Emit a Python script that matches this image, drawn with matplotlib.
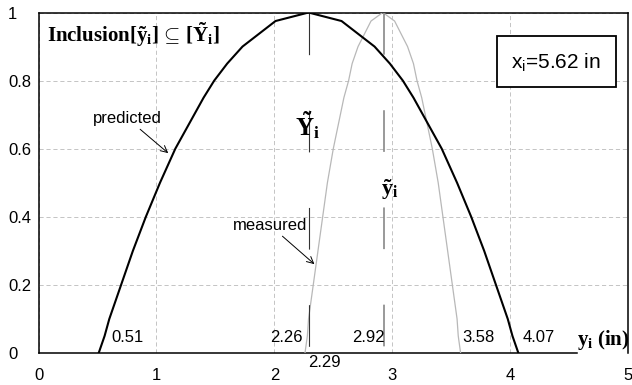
import matplotlib.pyplot as plt

plt.rcParams['font.family'] = 'Liberation Sans'
plt.rcParams['mathtext.fontset'] = 'custom'
plt.rcParams['mathtext.rm'] = 'Liberation Serif'
plt.rcParams['mathtext.it'] = 'Liberation Serif:italic'
plt.rcParams['mathtext.bf'] = 'Liberation Serif:bold'
plt.rcParams['mathtext.sf'] = 'Liberation Sans'
plt.rcParams['lines.scale_dashes'] = False

# membership levels and left/right ends of the two fuzzy intervals
levels = [0, 0.05, 0.1, 0.15, 0.2, 0.3, 0.4, 0.5, 0.6, 0.7, 0.75, 0.8, 0.85, 0.9, 0.975, 1]
pred_left = [0.51, 0.56, 0.60, 0.65, 0.70, 0.80, 0.91, 1.03, 1.16, 1.32, 1.40, 1.49,
             1.60, 1.73, 2.01, 2.29]
pred_right = [4.07, 4.02, 3.98, 3.93, 3.88, 3.78, 3.67, 3.55, 3.42, 3.26, 3.18, 3.09,
              2.98, 2.85, 2.57, 2.29]
meas_left = [2.26, 2.28, 2.29, 2.31, 2.33, 2.37, 2.41, 2.45, 2.50, 2.56, 2.59, 2.63,
             2.66, 2.71, 2.82, 2.92]
meas_right = [3.58, 3.56, 3.55, 3.53, 3.51, 3.47, 3.43, 3.39, 3.34, 3.28, 3.25, 3.21,
              3.18, 3.13, 3.02, 2.92]
x_i = 5.62

xticks = [0, 1, 2, 3, 4, 5]
yticks = [0, 0.2, 0.4, 0.6, 0.8, 1]
ytick_labels = ['0', '0.2', '0.4', '0.6', '0.8', '1']

fig = plt.figure(figsize=(6.32, 3.85), dpi=100)
ax = fig.add_axes([0.061, 0.083, 0.9327, 0.8845])

pred_x = pred_left + pred_right[::-1][1:]
pred_y = levels + levels[::-1][1:]
meas_x = meas_left + meas_right[::-1][1:]
meas_y = levels + levels[::-1][1:]

ax.plot(meas_x, meas_y, color='#b8b8b8', lw=0.9, zorder=3)
ax.plot(pred_x, pred_y, color='black', lw=1.5, zorder=4)

# dashed verticals at the peaks
pred_peak = pred_left[-1]
meas_peak = meas_left[-1]
ax.plot([pred_peak, pred_peak], [1, 0], color='#333333', lw=0.8,
        linestyle=(0, (30, 40)), zorder=3)
ax.plot([meas_peak + 0.01, meas_peak + 0.01], [1, 0], color='#888888', lw=1.2,
        linestyle=(0, (30, 40)), zorder=3)

ax.set_xlim(0, 5)
ax.set_ylim(0, 1)
ax.set_xticks(xticks)
ax.set_yticks(yticks)
ax.set_yticklabels(ytick_labels)
ax.tick_params(length=0, labelsize=12)
ax.tick_params(axis='x', pad=11)
ax.tick_params(axis='y', pad=22)
for lab in ax.get_yticklabels():
    lab.set_horizontalalignment('left')

ax.grid(True, color='#c4c4c4', linestyle=(0, (3, 2)), lw=0.7)
for s in ax.spines.values():
    s.set_linewidth(1.1)
ax.spines['bottom'].set_bounds(0, 4.57)

# end / peak value labels
kw = dict(textcoords='offset points', fontsize=12, va='center')
ax.annotate(f"{pred_left[0]:.2f}", (pred_left[0], 0), xytext=(9.5, 11.5), ha='left', **kw)
ax.annotate(f"{meas_left[0]:.2f}", (meas_left[0], 0), xytext=(-1.5, 11.5), ha='right', **kw)
ax.annotate(f"{pred_peak:.2f}", (pred_peak, 0), xytext=(0, -6.5), ha='left',
            annotation_clip=False, **kw)
ax.annotate(f"{meas_peak:.2f}", (meas_peak, 0), xytext=(1.5, 11.5), ha='right', **kw)
ax.annotate(f"{meas_right[0]:.2f}", (meas_right[0], 0), xytext=(1.5, 11.5), ha='left', **kw)
ax.annotate(f"{pred_right[0]:.2f}", (pred_right[0], 0), xytext=(3.2, 11.5), ha='left', **kw)

ax.text(0.07, 0.934,
        r"$\mathbf{Inclusion[\tilde{y}_i]}{\,\subseteq\,}\mathbf{[\tilde{Y}_i]}$",
        fontsize=15, va='center', ha='left')
ax.text(2.28, 0.67, r"$\mathbf{\tilde{Y}_i}$", fontsize=18, ha='center', va='center')
ax.text(2.98, 0.48, r"$\mathbf{\tilde{y}_i}$", fontsize=16, ha='center', va='center')
ax.text(4.79, 0.038, r"$\mathbf{y_i\ (in)}$", fontsize=15, ha='center', va='center')

ax.text(4.39, 0.856, "x$_\\mathsf{i}$=%.2f in" % x_i, fontsize=15, ha='center', va='center',
        bbox=dict(boxstyle='square,pad=0.7', fc='white', ec='black', lw=1.3), zorder=5)

arrow = dict(arrowstyle='->', color='black', lw=0.7, shrinkA=1, shrinkB=0)
ax.annotate("predicted", xy=(1.10, 0.587), xytext=(0.75, 0.69), fontsize=12,
            ha='center', va='center', arrowprops=arrow)
ax.annotate("measured", xy=(2.34, 0.261), xytext=(1.96, 0.376), fontsize=12,
            ha='center', va='center', arrowprops=arrow)

fig.savefig('out.png', dpi=100)
